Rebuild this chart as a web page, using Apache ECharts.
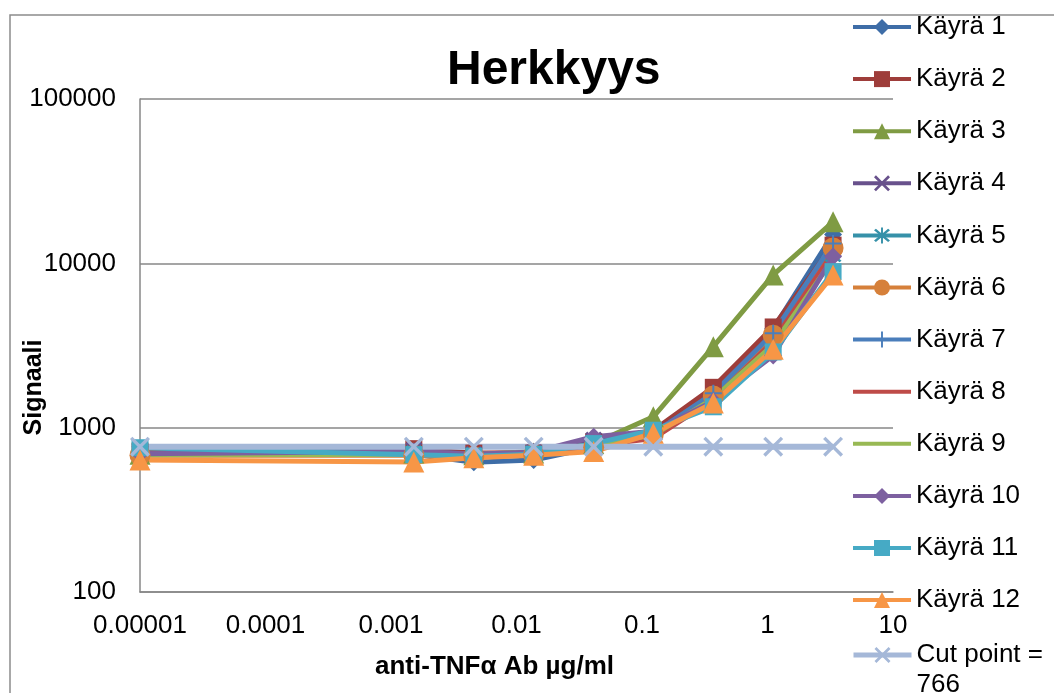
<!DOCTYPE html>
<html>
<head>
<meta charset="utf-8">
<script src="https://cdn.jsdelivr.net/npm/echarts@6/dist/echarts.min.js"></script>
<style>
  html, body { margin: 0; padding: 0; background: #fff; }
  #chart { width: 1054px; height: 693px; }
</style>
</head>
<body>
<div id="chart"></div>
<script>
// pitoisuudet (µg/ml), 1. piste = nollanäyte piirrettynä 0.00001:een
const concentrations = [0.00001, 0.00152, 0.00457, 0.0137, 0.0412, 0.123, 0.370, 1.11, 3.33]

const kayra1 = [700, 690, 615, 635, 760, 930, 1650, 4000, 15000]
const kayra2 = [720, 745, 700, 700, 820, 960, 1760, 4100, 12900]
const kayra3 = [690, 700, 685, 700, 800, 1165, 3110, 8500, 17900]
const kayra4 = [700, 730, 690, 705, 840, 940, 1550, 3400, 12200]
const kayra5 = [730, 710, 690, 695, 780, 900, 1520, 3300, 11200]
const kayra6 = [680, 680, 665, 685, 760, 910, 1560, 3650, 12400]
const kayra7 = [700, 695, 675, 690, 770, 920, 1620, 3750, 13200]
const kayra8 = [705, 705, 695, 705, 780, 860, 1480, 3350, 11600]
const kayra9 = [685, 690, 685, 715, 790, 900, 1500, 3200, 10600]
const kayra10 = [695, 715, 690, 710, 880, 950, 1450, 2750, 11000]
const kayra11 = [755, 685, 670, 690, 800, 965, 1340, 2890, 8900]
const kayra12 = [636, 618, 655, 680, 715, 925, 1415, 3000, 8500]
const cutPoint = 766

const seriesNames = ['Käyrä 1', 'Käyrä 2', 'Käyrä 3', 'Käyrä 4', 'Käyrä 5', 'Käyrä 6',
  'Käyrä 7', 'Käyrä 8', 'Käyrä 9', 'Käyrä 10', 'Käyrä 11', 'Käyrä 12']
const seriesValues = [kayra1, kayra2, kayra3, kayra4, kayra5, kayra6,
  kayra7, kayra8, kayra9, kayra10, kayra11, kayra12]
const cutName = 'Cut point = 766'

const xTickLabels = ['0.00001', '0.0001', '0.001', '0.01', '0.1', '1', '10']
const yTickLabels = ['100', '1000', '10000', '100000']

const FONT = 'Liberation Sans, Arial, sans-serif'

// merkit
const xMark = 'path://M0,1.2 L1.2,0 L10,8.8 L8.8,10 Z M8.8,0 L10,1.2 L1.2,10 L0,8.8 Z'
const plusMark = 'path://M4.4,0 L5.6,0 L5.6,10 L4.4,10 Z M0,4.4 L10,4.4 L10,5.6 L0,5.6 Z'
const starMark = 'path://M0,1.2 L1.2,0 L10,8.8 L8.8,10 Z M8.8,0 L10,1.2 L1.2,10 L0,8.8 Z M4.4,-1 L5.6,-1 L5.6,11 L4.4,11 Z'

const colors = ['#3E6DA7', '#9E3D3A', '#7F9B43', '#68518C', '#3691A9', '#D6803A',
  '#4A7EBB', '#BE4B48', '#98B954', '#7D60A0', '#46AAC5', '#F79646']
const symbols = ['diamond', 'rect', 'triangle', xMark, starMark, 'circle',
  plusMark, 'none', 'none', 'diamond', 'rect', 'triangle']
const symbolSizes = [18, 17, 21, 17, 17, 21, 17, 0, 0, 18, 17, 21]

const toPairs = values => concentrations.map((c, i) => [c, values[i]])

const logLabel = labels => value => {
  const idx = Math.round(Math.log10(value)) - Math.round(Math.log10(Number(labels[0])))
  return labels[idx] !== undefined ? labels[idx] : ''
}

const chart = echarts.init(document.getElementById('chart'))

const curveSeries = seriesNames.map((name, i) => ({
  name,
  type: 'line',
  data: toPairs(seriesValues[i]),
  symbol: symbols[i],
  symbolSize: symbolSizes[i],
  showSymbol: symbols[i] !== 'none',
  lineStyle: { color: colors[i], width: 5 },
  itemStyle: { color: colors[i], borderWidth: 0 },
  emphasis: { disabled: true },
}))

const cutSeries = {
  name: cutName,
  type: 'line',
  data: concentrations.map(c => [c, cutPoint]),
  symbol: xMark,
  symbolSize: 20,
  lineStyle: { color: '#A5B8D8', width: 6 },
  itemStyle: { color: '#A5B8D8', borderWidth: 0 },
  emphasis: { disabled: true },
}

chart.setOption({
  animation: false,
  textStyle: { fontFamily: FONT },
  title: {
    text: 'Herkkyys',
    left: 447,
    top: 47,
    padding: 0,
    textStyle: { fontFamily: FONT, fontSize: 48, fontWeight: 'bold', color: '#000' },
  },
  graphic: [{
    type: 'rect',
    z: -10,
    silent: true,
    shape: { x: 10, y: 15, width: 1200, height: 800 },
    style: { fill: 'none', stroke: '#8c8c8c', lineWidth: 1.5 },
  }],
  legend: [{
    orient: 'vertical',
    left: 851,
    top: 14,
    padding: 0,
    itemWidth: 58,
    itemHeight: 20,
    itemGap: 26.1,
    lineStyle: { width: 4 },
    textStyle: { fontFamily: FONT, fontSize: 26, lineHeight: 25, color: '#000' },
    data: seriesNames.map(name => (name === 'Käyrä 8' || name === 'Käyrä 9')
      ? { name, itemStyle: { opacity: 0 } }
      : { name }),
  }, {
    orient: 'vertical',
    left: 851,
    top: 610,
    padding: 0,
    itemWidth: 58,
    itemHeight: 20,
    lineStyle: { width: 5 },
    formatter: () => '\nCut point =\n766',
    textStyle: { fontFamily: FONT, fontSize: 26, lineHeight: 30, color: '#000' },
    data: [cutName],
  }],
  grid: { left: 140, top: 99, right: 161, bottom: 101, outerBoundsMode: 'none', containLabel: false },
  xAxis: {
    type: 'log',
    logBase: 10,
    min: 0.00001,
    max: 10,
    name: 'anti-TNFα Ab µg/ml',
    nameLocation: 'middle',
    nameGap: 62,
    nameTextStyle: {
      fontFamily: FONT, fontSize: 26, fontWeight: 'bold', color: '#000',
      padding: [0, 44, 0, 0],
    },
    axisLine: { show: true, lineStyle: { color: '#878787', width: 1.5 } },
    axisTick: { show: false },
    splitLine: { show: false },
    minorTick: { show: false },
    axisLabel: {
      fontFamily: FONT, fontSize: 26, color: '#000', margin: 21,
      showMinLabel: true, showMaxLabel: true,
      formatter: logLabel(xTickLabels),
    },
  },
  yAxis: {
    type: 'log',
    logBase: 10,
    min: 100,
    max: 100000,
    name: 'Signaali',
    nameLocation: 'middle',
    nameGap: 93,
    nameMoveOverlap: false,
    nameTextStyle: {
      fontFamily: FONT, fontSize: 25, fontWeight: 'bold', color: '#000',
      padding: [0, 84, 0, 0],
    },
    axisLine: { show: true, lineStyle: { color: '#878787', width: 1.5 } },
    axisTick: { show: false },
    splitLine: { show: true, lineStyle: { color: '#878787', width: 1.5 } },
    axisLabel: {
      fontFamily: FONT, fontSize: 26, color: '#000', margin: 24,
      formatter: logLabel(yTickLabels),
    },
  },
  series: [...curveSeries, cutSeries],
})
</script>
</body>
</html>
